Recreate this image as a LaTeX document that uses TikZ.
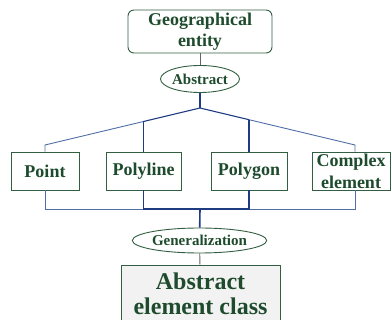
\documentclass[tikz,border=0pt]{standalone}
\usepackage{fontspec}
\setmainfont{Liberation Serif}
\usetikzlibrary{shapes.geometric}
\definecolor{txtgreen}{RGB}{30,75,45}
\definecolor{boxgreen}{RGB}{50,95,65}
\definecolor{darkblue}{RGB}{30,60,130}
\definecolor{lightblue}{RGB}{80,110,165}
\definecolor{stemgray}{RGB}{100,100,100}
\begin{document}
\begin{tikzpicture}[x=1pt,y=-1pt,
    box/.style={draw=boxgreen,line width=0.9pt,fill=white,text=txtgreen,font=\fontsize{18}{21}\selectfont\bfseries,align=center,inner sep=0pt,minimum height=38pt},
    oval/.style={draw=boxgreen,ellipse,line width=0.9pt,fill=white,text=txtgreen,font=\fontsize{15}{17}\selectfont\bfseries,inner sep=0pt},
    trunk/.style={draw=darkblue,line width=1.6pt},
    branch/.style={draw=darkblue,line width=1.1pt},
    twig/.style={draw=lightblue,line width=0.9pt},
    stem/.style={draw=stemgray,line width=0.9pt}]
  \useasboundingbox (0,0) rectangle (391,320);
  % nodes
  \node[box,rounded corners=6pt,minimum width=144pt,minimum height=43pt] (geo) at (200,31.5) {Geographical\\entity};
  \node[oval,minimum width=77pt,minimum height=27pt] (abs) at (200,79) {Abstract};
  \node[box,minimum width=68pt] (point) at (45,171) {Point};
  \node[box,minimum width=75pt] (polyline) at (143.5,171) {Polyline};
  \node[box,minimum width=76pt] (polygon) at (249,171) {Polygon};
  \node[box,minimum width=78pt,font=\fontsize{18}{22}\selectfont\bfseries] (complex) at (351,171) {Complex\\element};
  \node[oval,minimum width=129pt,minimum height=25pt] (gen) at (199.5,240.5) {Generalization};
  \node[box,fill=black!5,minimum width=159pt,minimum height=57pt,font=\fontsize{24}{25}\selectfont\bfseries] (aec) at (200.5,293.5) {Abstract\\element class};
  % junctions
  \coordinate (hub) at (200,108);
  \coordinate (lt) at (45,145);
  \coordinate (rt) at (355,145);
  \coordinate (lj) at (143.5,121.5);
  \coordinate (rj) at (249,119.7);
  \coordinate (foot) at (200,209);
  \coordinate (lb) at (45,209);
  \coordinate (rb) at (355,209);
  \coordinate (mlb) at (143.5,209);
  \coordinate (mrb) at (249,209);
  % upper tree
  \draw[stem] (geo) -- (abs);
  \draw[trunk] (abs) -- (hub);
  \draw[branch] (lj) -- (hub) -- (rj);
  \draw[twig] (lj) -- (lt) -- (point);
  \draw[twig] (rj) -- (rt) -- (complex.north -| rt);
  \draw[branch] (lj) -- (polyline);
  \draw[branch] (rj) -- (polygon);
  % lower tree
  \draw[twig] (point) -- (lb) -- (mlb);
  \draw[twig] (complex.south -| rb) -- (rb) -- (mrb);
  \draw[branch] (polyline) -- (mlb) -- (mrb) -- (polygon);
  \draw[trunk] (foot) -- (gen);
  \draw[stem] (gen) -- (aec);
\end{tikzpicture}
\end{document}
